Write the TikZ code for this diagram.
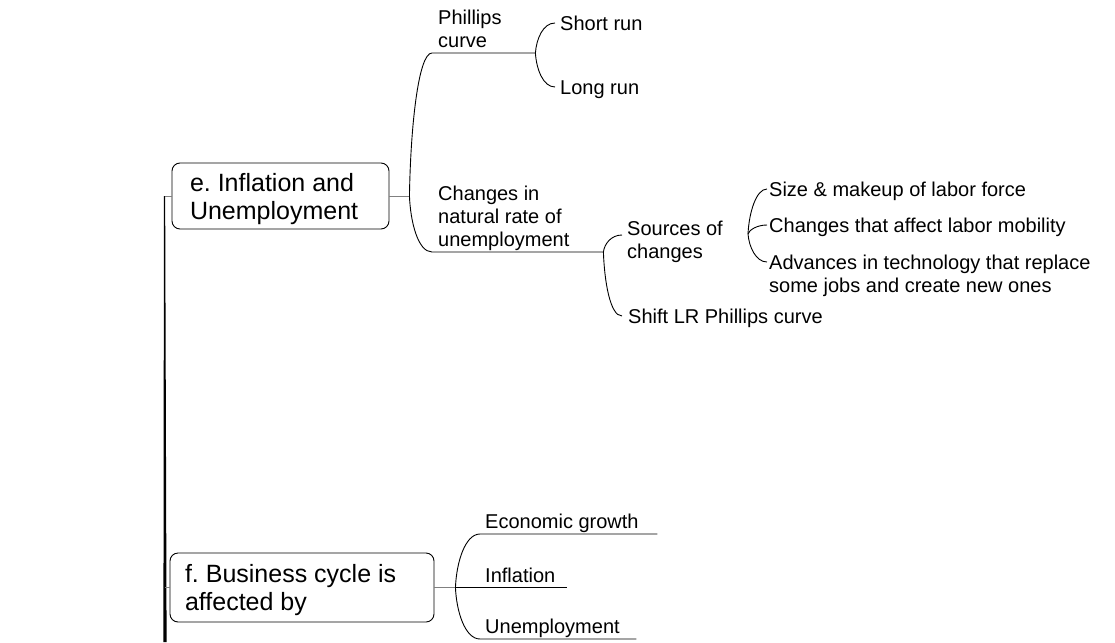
\documentclass[tikz,border=0pt]{standalone}
\usepackage{fontspec}
\setmainfont{Liberation Sans}
\usetikzlibrary{calc}
\frenchspacing
\definecolor{linkgrey}{RGB}{128,128,128}
\tikzset{
  topicbox/.style={draw=black, line width=0.9pt, rounded corners=8pt,
    font=\fontsize{25}{28}\selectfont, text depth=0pt},
  branchtext/.style={font=\fontsize{20}{23}\selectfont, inner xsep=6pt,
    inner ysep=5pt, text depth=0pt, anchor=south west},
  leaftext/.style={font=\fontsize{20}{23}\selectfont, anchor=west,
    inner ysep=0pt, inner xsep=5pt, text height=14.3pt, text depth=0pt},
  linkline/.style={draw=linkgrey, line width=1pt},
  bracketline/.style={draw=black, line width=0.9pt},
  trunkfill/.style={fill=black}
}
\begin{document}
\begin{tikzpicture}[x=1pt, y=-1pt]
\useasboundingbox (0,0) rectangle (1115,642);

% main topics
\node[topicbox, minimum width=217, minimum height=66, inner xsep=18pt] (e)
  at (280.5,196) {\parbox[b]{181pt}{e. Inflation and\\Unemployment}};
\node[topicbox, minimum width=264, minimum height=69, inner xsep=15pt] (f)
  at (302,587.5) {\parbox[b]{234pt}{f. Business cycle is\\affected by}};

% underlined branches
\node[branchtext] (phil) at (432,53) {\parbox[b]{91pt}{Phillips\\curve}};
\node[branchtext] (chg) at (432,252) {\parbox[b]{159pt}{Changes in\\natural rate of\\unemployment}};
\node[branchtext, inner xsep=5pt] (econ) at (480,534) {\parbox[b]{167pt}{Economic growth}};
\node[branchtext, inner xsep=5pt] (infl) at (480,587.5) {\parbox[b]{77pt}{Inflation}};
\node[branchtext, inner xsep=5pt] (unemp) at (480,639) {\parbox[b]{146pt}{Unemployment}};

% leaves
\node[leaftext] (short) at (555,23) {Short run};
\node[leaftext] (long) at (555,87) {Long run};
\node[leaftext, anchor=base west] (src) at (622,235) {\parbox[t]{100pt}{Sources of\\changes}};
\node[leaftext, inner xsep=6pt] (shift) at (622,316) {Shift LR Phillips curve};
\node[leaftext, inner xsep=2pt] (size) at (767,189) {Size \& makeup of labor force};
\node[leaftext, inner xsep=2pt] (mob) at (767,225) {Changes that affect labor mobility};
\node[leaftext, inner xsep=2pt] (adv) at (767,262)
  {\parbox[t]{340pt}{Advances in technology that replace\\some jobs and create new ones}};

% trunk joining the topics
\coordinate (tTop) at ($(e.west)+(-7,0)$);
\coordinate (tBot) at (165,642);
\fill[trunkfill] ($(tTop)+(-0.6,0)$) -- ($(tTop)+(0.6,0)$) -- ($(tBot)+(1.6,0)$) -- ($(tBot)+(-1.6,0)$) -- cycle;
\draw[linkline] (tTop) -- (e.west);
\draw[linkline] (tTop |- f.west) -- (f.west);

% inflation and unemployment
\coordinate (vE) at ($(e.east)+(20,0)$);
\draw[linkline] (e.east) -- (vE);
\draw[bracketline] (vE) .. controls +(1,-66) and +(-14,0) .. (phil.south west) -- (phil.south east);
\draw[bracketline] (vE) .. controls +(1,26) and +(-14,0) .. (chg.south west) -- (chg.south east);
\draw[bracketline] (phil.south east) .. controls +(1,-14) and +(-12,0) .. (short.west);
\draw[bracketline] (phil.south east) .. controls +(1,16) and +(-12,0) .. (long.west);
\draw[bracketline] (chg.south east) .. controls +(1,-8) and +(-11,0) .. (src.base west);
\draw[bracketline] (chg.south east) .. controls +(1,29) and +(-12,0) .. (shift.west);
\coordinate (vS) at (748,234);
\draw[bracketline] (vS) .. controls +(1,-21) and +(-11,0) .. (size.west);
\draw[bracketline] (vS) .. controls +(1,-4) and +(-10,0) .. (mob.west);
\draw[bracketline] (vS) .. controls +(1,13) and +(-11,0) .. (adv.west);

% business cycle
\coordinate (vF) at ($(f.east)+(21,0)$);
\draw[linkline] (f.east) -- (vF);
\draw[bracketline] (vF) .. controls +(1,-25) and +(-15,0) .. (econ.south west) -- (econ.south east);
\draw[bracketline] (vF) -- (infl.south west) -- (infl.south east);
\draw[bracketline] (vF) .. controls +(1,24) and +(-15,0) .. (unemp.south west) -- (unemp.south east);
\end{tikzpicture}
\end{document}
